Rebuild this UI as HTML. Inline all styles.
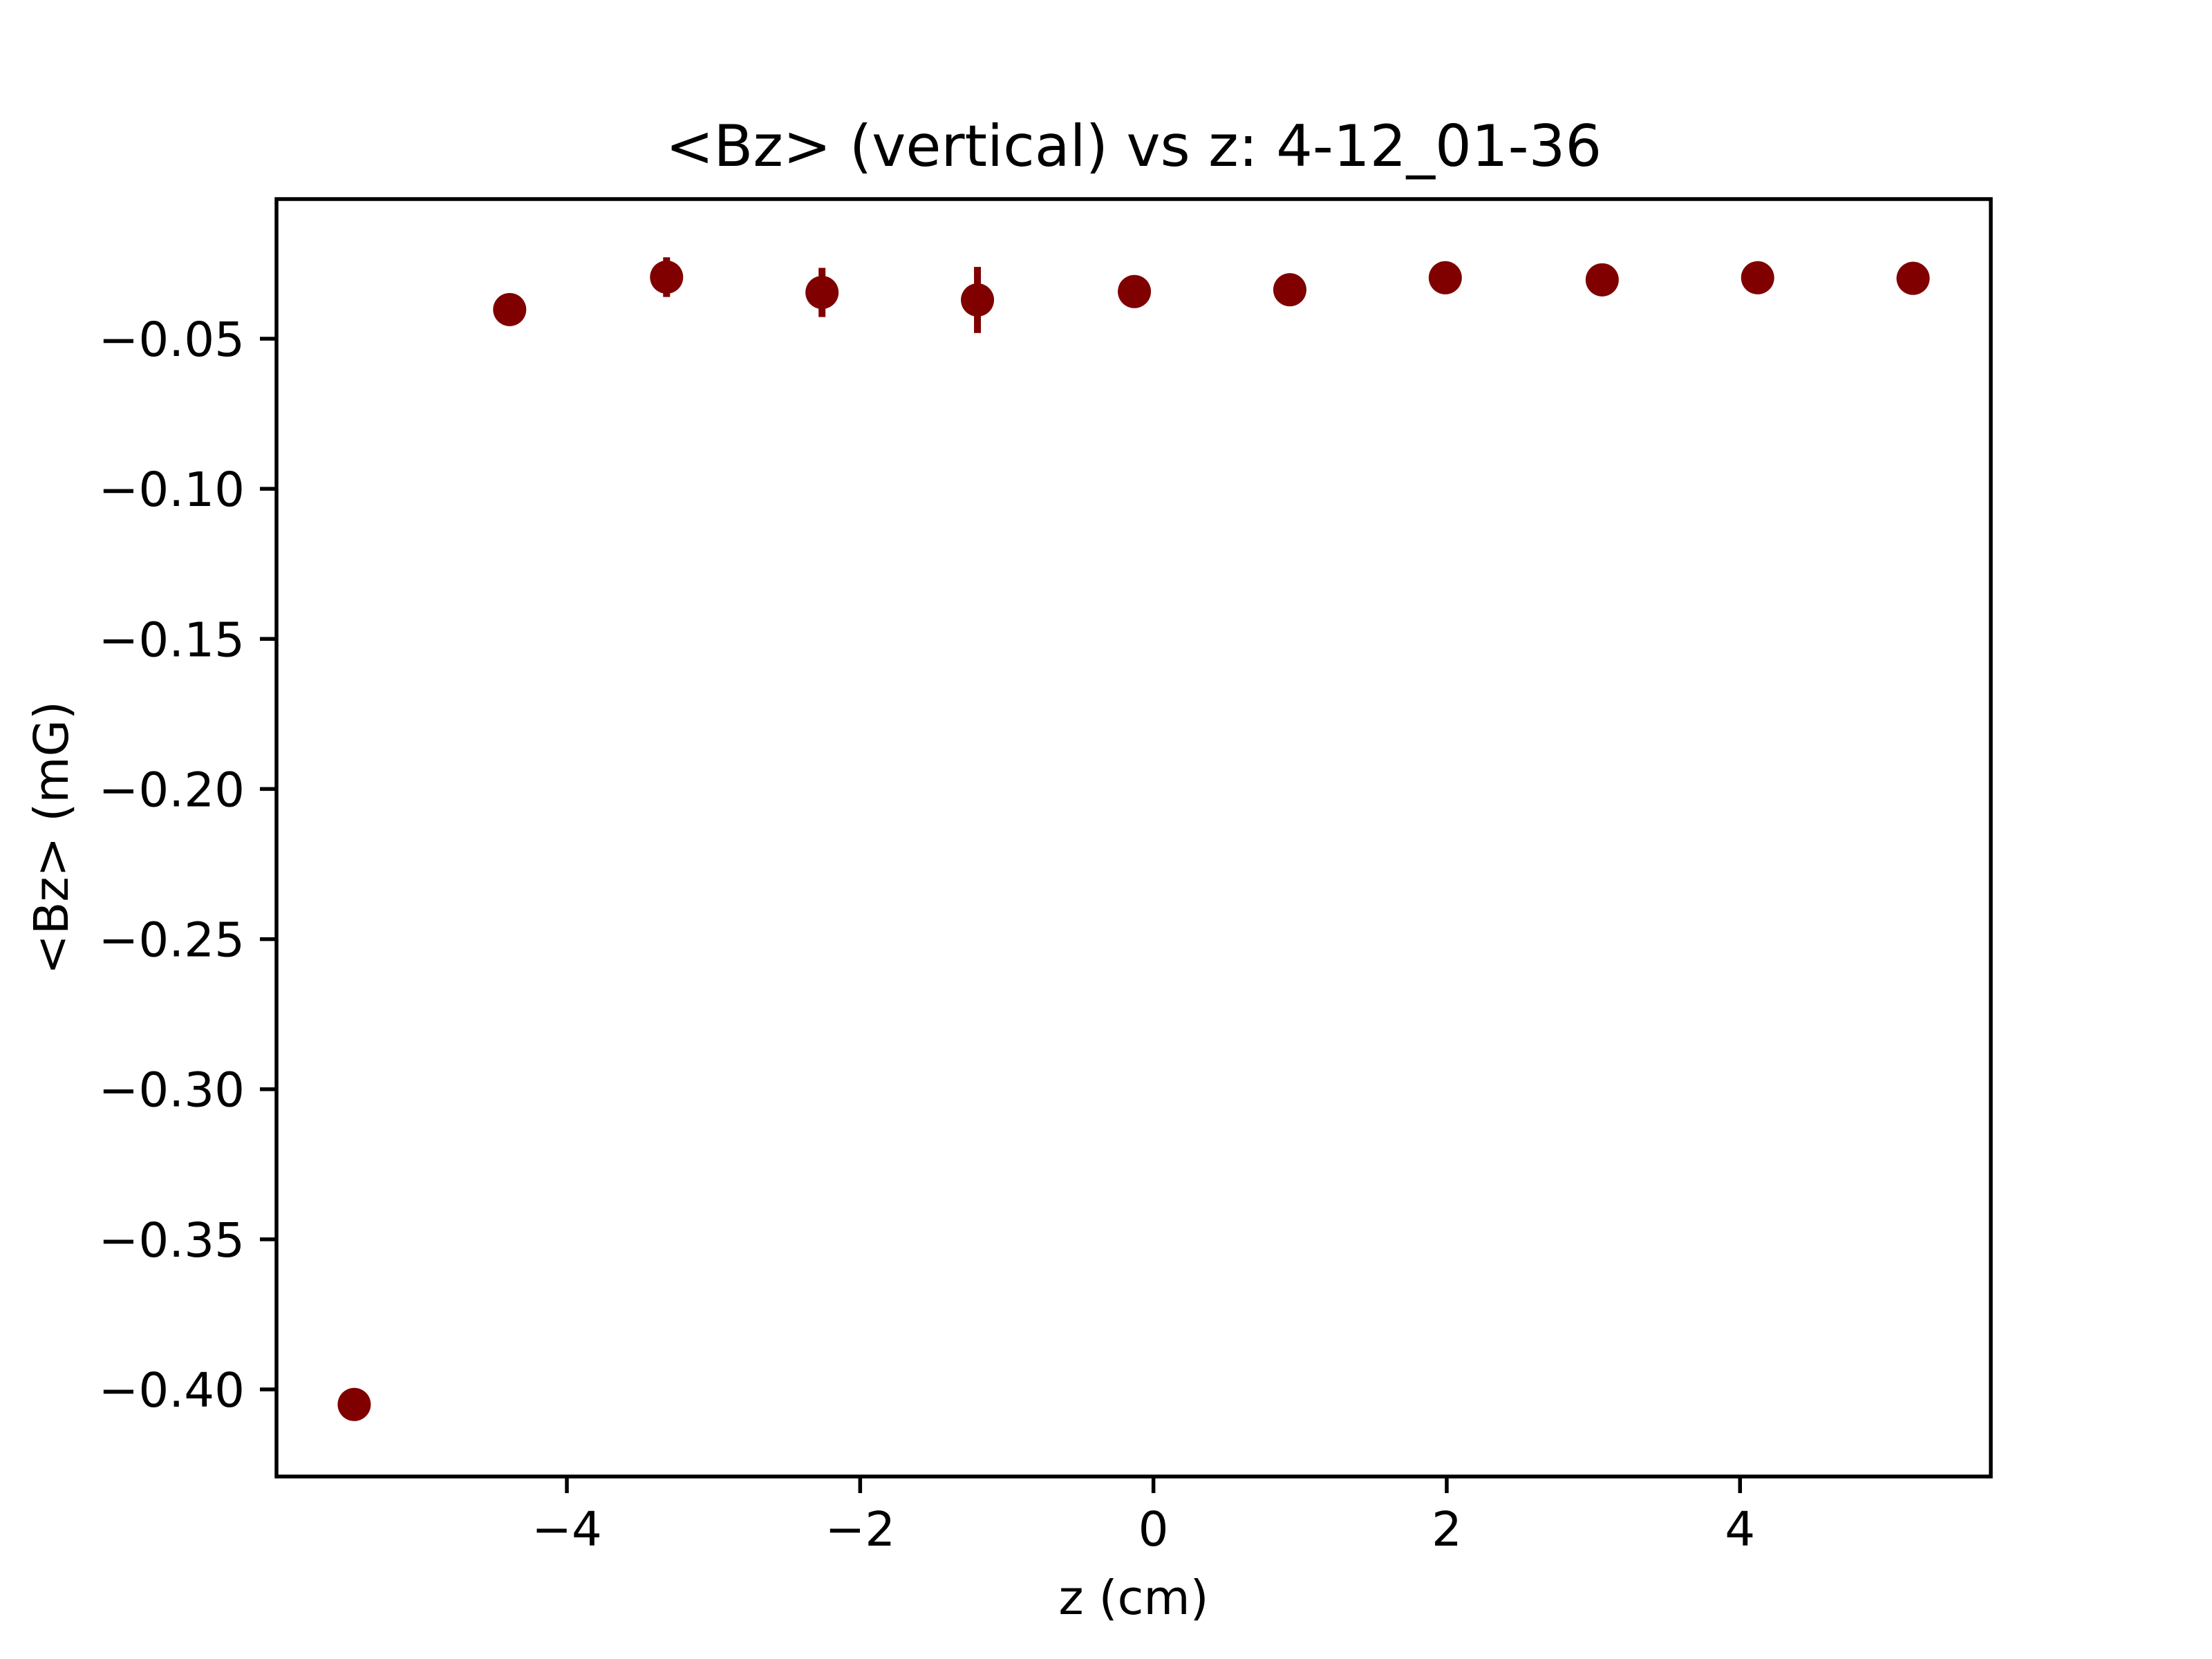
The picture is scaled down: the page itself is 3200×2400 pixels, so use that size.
<!DOCTYPE html>
<html><head><meta charset="utf-8"><style>
html,body{margin:0;padding:0;background:#fff;}
svg{display:block;font-family:"DejaVu Sans","Liberation Sans",sans-serif;}
</style></head><body>
<svg id="chart" width="3200" height="2400" viewBox="0 0 3200 2400" xmlns="http://www.w3.org/2000/svg">
<rect width="3200" height="2400" fill="#fff"/>
<text x="1640" y="240" font-size="83" text-anchor="middle">&lt;Bz&gt; (vertical) vs z: 4-12_01-36</text>
<text x="1640" y="2335" font-size="69" text-anchor="middle">z (cm)</text>
<text transform="translate(98,1212) rotate(-90)" font-size="69" text-anchor="middle">&lt;Bz&gt; (mG)</text>
<g id="ticks"></g>
<g id="marks"></g>
<rect x="400" y="288" width="2480" height="1848" fill="none" stroke="#000" stroke-width="5.5"/>
</svg>
<script>
const zValues = [-5.45, -4.39, -3.32, -2.26, -1.20, -0.13, 0.93, 1.99, 3.06, 4.12, 5.18];
const bzValues = [-0.405, -0.0403, -0.0295, -0.0346, -0.0371, -0.0343, -0.0337, -0.0297, -0.0304, -0.0297, -0.0299];
const bzErrors = [0.002, 0.002, 0.0066, 0.0082, 0.011, 0.002, 0.002, 0.002, 0.002, 0.002, 0.002];
const xTicks = [-4, -2, 0, 2, 4];
const xTickLabels = ["\u22124", "\u22122", "0", "2", "4"];
const yTicks = [-0.05, -0.10, -0.15, -0.20, -0.25, -0.30, -0.35, -0.40];
const yTickLabels = ["\u22120.05", "\u22120.10", "\u22120.15", "\u22120.20", "\u22120.25", "\u22120.30", "\u22120.35", "\u22120.40"];

const X0 = 400, X1 = 2880, Y0 = 288, Y1 = 2136;
const xmin = -5.98, xmax = 5.71, ymin = -0.4290, ymax = -0.0035;
function sx(v){ return X0 + (v - xmin) / (xmax - xmin) * (X1 - X0); }
function sy(v){ return Y1 - (v - ymin) / (ymax - ymin) * (Y1 - Y0); }
const NS = "http://www.w3.org/2000/svg";
const tg = document.getElementById('ticks');
const mg = document.getElementById('marks');
function mk(tag, attrs, parent){ const e = document.createElementNS(NS, tag); for (const k in attrs) e.setAttribute(k, attrs[k]); parent.appendChild(e); return e; }

xTicks.forEach((t, i) => {
  const x = sx(t);
  const l = mk('line', {x1:x, x2:x, y1:Y1, y2:Y1+24, stroke:'#000', 'stroke-width':5.5}, tg);
  
  
  const tx = mk('text', {x:x, y:Y1+100, 'font-size':69, 'text-anchor':'middle'}, tg);
  tx.textContent = xTickLabels[i];
  
  
});
yTicks.forEach((t, i) => {
  const y = sy(t);
  const l = mk('line', {x1:X0-24, x2:X0, y1:y, y2:y, stroke:'#000', 'stroke-width':5.5}, tg);
  
  
  const tx = mk('text', {x:X0-46, y:y+25, 'font-size':69, 'text-anchor':'end'}, tg);
  tx.textContent = yTickLabels[i];
  
  
});
zValues.forEach((z, i) => {
  const x = sx(z), y = sy(bzValues[i]);
  const e = mk('line', {x1:x, x2:x, y1:sy(bzValues[i]+bzErrors[i]), y2:sy(bzValues[i]-bzErrors[i]), stroke:'#800000', 'stroke-width':10}, mg);
  
  
  const c = mk('circle', {cx:x, cy:y, r:24, fill:'#800000'}, mg);
  
  
});
</script>
</body></html>
